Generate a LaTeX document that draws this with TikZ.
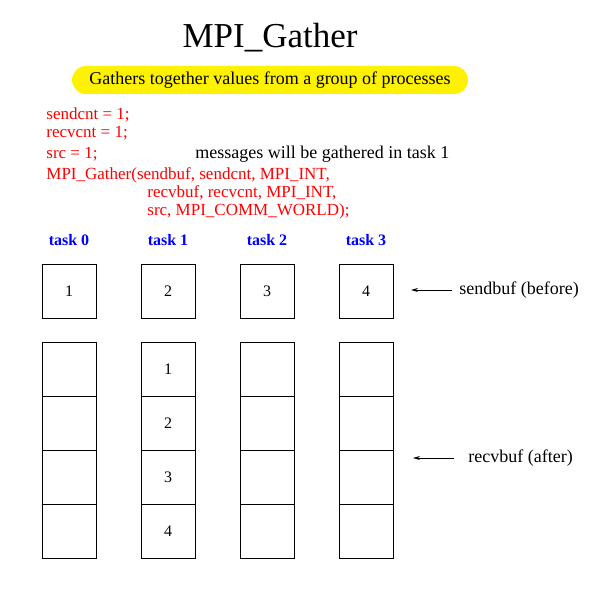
\documentclass[tikz,border=0pt]{standalone}
\usepackage{fontspec}
\setmainfont{Liberation Serif}
\usetikzlibrary{positioning,arrows.meta}

\tikzset{
  cell/.style={draw, minimum size=54pt, inner sep=0pt, font=\fontsize{16}{18}\selectfont},
  task/.style={text=blue, font=\bfseries\fontsize{16}{18}\selectfont},
  code/.style={text=red, anchor=base west, inner sep=0pt, font=\fontsize{17}{20}\selectfont},
  note/.style={anchor=west, inner sep=3pt, font=\fontsize{18}{20}\selectfont},
  ptr/.style={-{Stealth[length=7pt,width=4pt]}, shorten <=4pt},
}

\begin{document}
\begin{tikzpicture}[x=1pt,y=-1pt,node distance=99pt,on grid,line width=0.8pt]
   \useasboundingbox (0,0) rectangle (608,615);
   \node[anchor=base, font=\fontsize{35}{40}\selectfont] (title) at (270,48) {MPI\_Gather};
   \node[fill=yellow, rounded corners=14pt, minimum width=396pt, minimum height=28pt,
         font=\fontsize{18}{20}\selectfont] (purpose) at (270,80)
         {Gathers together values from a group of processes};

   % the call
   \node[code] (l1) at (46,119) {sendcnt = 1;};
   \node[code] (l2) at (46,137) {recvcnt = 1;};
   \node[code] (l3) at (46,158) {src = 1;};
   \node[code, text=black, font=\fontsize{18}{20}\selectfont] (msg) at (195,158) {messages will be gathered in task 1};
   \node[code] (l4) at (46,179) {MPI\_Gather(sendbuf, sendcnt, MPI\_INT,};
   \node[code] (l5) at (147,197) {recvbuf, recvcnt, MPI\_INT,};
   \node[code] (l6) at (147,215) {src, MPI\_COMM\_WORLD);};

   % buffers
   \node[cell] (s0) at (69,291) {1};
   \node[cell] (s1) [right=of s0] {2};
   \node[cell] (s2) [right=of s1] {3};
   \node[cell] (s3) [right=of s2] {4};
   \foreach \i in {0,...,3} {
      \node[task] (t\i) [above=51pt of s\i] {task \i};
      \node[cell] (r\i-1) [below=78pt of s\i] {\ifnum\i=1 1\fi};
      \foreach \j [count=\k from 1] in {2,3,4}
         \node[cell] (r\i-\j) [below=54pt of r\i-\k] {\ifnum\i=1 \j\fi};
   }

   % labels
   \node[note] (sendlbl) at (456,290) {sendbuf (before)};
   \coordinate (sendtip) at (411,290);
   \node[note] (recvlbl) at (465,458) {recvbuf (after)};
   \coordinate (recvtip) at (413,458);
   \draw[ptr] (sendlbl.west) -- (sendtip);
   \draw[ptr, shorten <=11pt] (recvlbl.west) -- (recvtip);
\end{tikzpicture}
\end{document}
